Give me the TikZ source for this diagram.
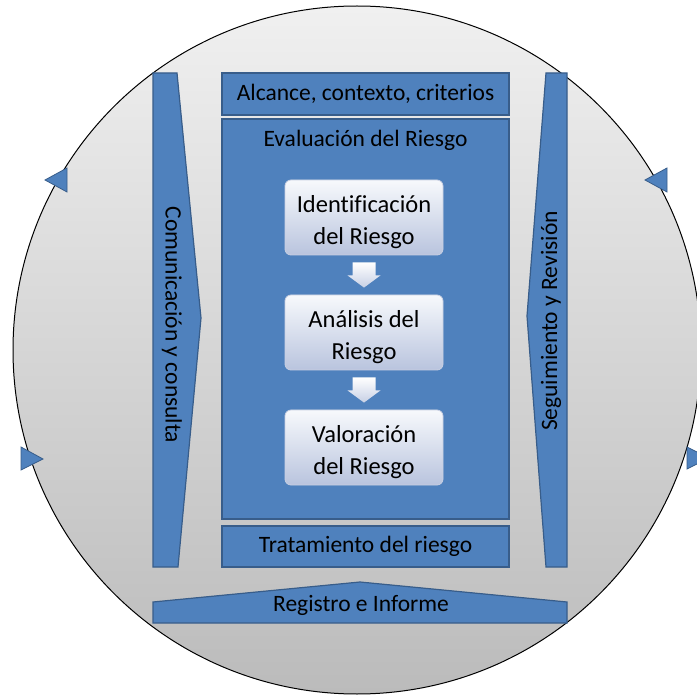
\documentclass[tikz,border=0pt]{standalone}
\usepackage{fontspec}
\setmainfont[Ligatures=NoCommon]{Carlito}
\usetikzlibrary{calc}
\definecolor{barblue}{HTML}{4F81BD}
\definecolor{barline}{HTML}{385D8A}
\definecolor{boxtop}{HTML}{F7F9FC}
\definecolor{boxbot}{HTML}{B9C4DE}
\definecolor{boxline}{HTML}{C9D0E2}
\definecolor{circtop}{HTML}{F0F0F0}
\definecolor{circbot}{HTML}{BBBBBB}
\begin{document}
\begin{tikzpicture}[x=1pt,y=-1pt,
  bar/.style={fill=barblue,draw=barline,line width=1.2pt},
  lbl/.style={font=\fontsize{23.5}{31}\selectfont,text=black,align=center,inner sep=0pt},
  stepbox/.style={lbl,font=\fontsize{24.5}{32}\selectfont,rounded corners=6pt,top color=boxtop,bottom color=boxbot,draw=boxline,line width=0.8pt,minimum width=158pt,minimum height=75pt},
  blockarrow/.style={top color=white,bottom color=boxbot!80,draw=none},
  cyclemark/.style={fill=barblue,draw=barline,line width=0.8pt}]
\useasboundingbox (0,0) rectangle (697,695);
\clip (0,0) rectangle (697,695);
% outer cycle
\node[circle,draw=black,line width=1pt,top color=circtop,bottom color=circbot,minimum size=688pt,inner sep=0pt] (cycle) at (357,350) {};
\draw[cyclemark] (45,180) -- (67,168) -- (67,192) -- cycle;
\draw[cyclemark] (645,180) -- (667,168) -- (667,192) -- cycle;
\draw[cyclemark] (43,459) -- (21,447) -- (21,470) -- cycle;
\draw[cyclemark] (709,458) -- (687,447) -- (687,469) -- cycle;
% side bars
\draw[bar] (153,73) -- (177,73) -- (201,318) -- (178,567) -- (153,567) -- cycle;
\node[lbl,rotate=-90] (com) at (172,325) {Comunicación y consulta};
\draw[bar] (546,73) -- (567,73) -- (567,567) -- (546,567) -- (527,316) -- cycle;
\node[lbl,rotate=90] (seg) at (551,321) {Seguimiento y Revisión};
% central boxes
\node[bar,lbl,minimum width=287pt,minimum height=42pt] (alc) at (365.5,94) {Alcance, contexto, criterios};
\node[bar,minimum width=287pt,minimum height=400pt,inner sep=0pt] (eval) at (365.5,319) {};
\node[lbl] (evaltitle) at ($(eval.north)+(0,22)$) {Evaluación del Riesgo};
\node[bar,lbl,minimum width=287pt,minimum height=41pt] (trat) at (365.5,546.5) {Tratamiento del riesgo};
% bottom bar
\draw[bar] (153,602) -- (360,582) -- (567,602) -- (567,623) -- (153,623) -- cycle;
\node[lbl] (reg) at (361,605) {Registro e Informe};
% steps
\node[stepbox] (id) at (364,217.5) {\rule{0pt}{26pt}Identificación\\del Riesgo};
\node[stepbox] (an) at (364,332.5) {\rule{0pt}{26pt}Análisis del\\Riesgo};
\node[stepbox] (val) at (364,447.5) {\rule{0pt}{26pt}Valoración\\del Riesgo};
\foreach \a/\b in {id/an,an/val}{
  \path[blockarrow] ($(\a.south)+(-11.5,7)$) -- ($(\a.south)+(11.5,7)$) -- ($(\a.south)+(11.5,20)$) -- ($(\a.south)+(16.5,20)$) -- ($(\b.north)+(0,-7)$) -- ($(\a.south)+(-16.5,20)$) -- ($(\a.south)+(-11.5,20)$) -- cycle;
}
\end{tikzpicture}
\end{document}
